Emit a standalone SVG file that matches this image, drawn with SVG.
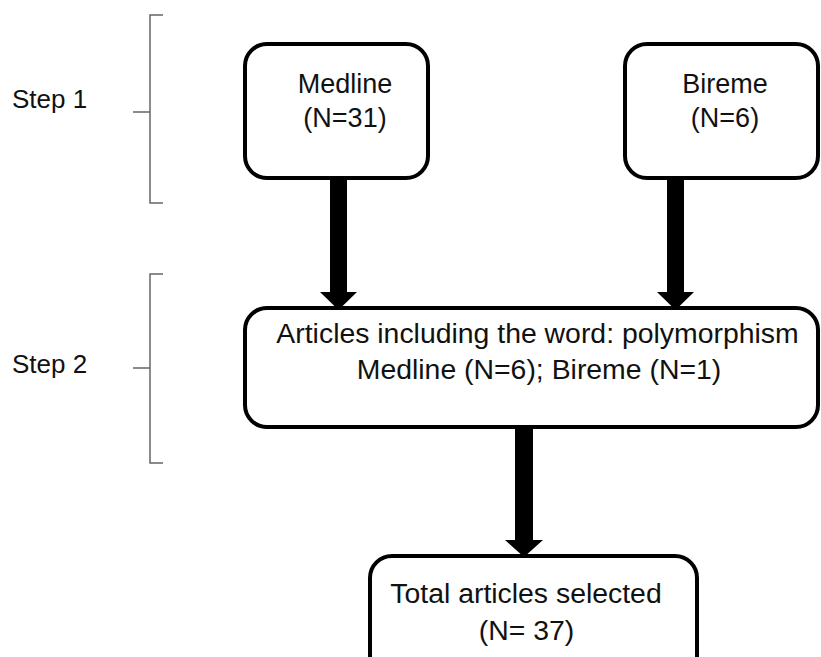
<svg xmlns="http://www.w3.org/2000/svg" width="821" height="657" viewBox="0 0 821 657">
<style>
.box{fill:#fff;stroke:#000;stroke-width:4}
.t{font-family:"Liberation Sans",Arial,sans-serif;font-size:27px;fill:#111;text-anchor:middle}
.m{font-size:28.4px}
.s{font-family:"Liberation Sans",Arial,sans-serif;font-size:26px;fill:#111}
.br{fill:none;stroke:#666;stroke-width:1.5}
.arr{fill:#000}
</style>
<rect width="821" height="657" fill="#fff"/>
<g id="step1">
<path class="br" d="M163,15 H150 V203 H163 M150,112 H133"/>
<text class="s" x="12" y="108">Step 1</text>
</g>
<g id="step2">
<path class="br" d="M163,274 H150 V463 H163 M150,368 H133"/>
<text class="s" x="12" y="373">Step 2</text>
</g>
<g id="connectors">
<polygon class="arr" points="330,178 347,178 347,292 357,292 338.5,310 320,292 330,292"/>
<polygon class="arr" points="667,178 684,178 684,292 694,292 675.5,310 657,292 667,292"/>
<polygon class="arr" points="515,427 533,427 533,540 543,540 524,557 505,540 515,540"/>
</g>
<g id="medline">
<rect class="box" x="245" y="44" width="183" height="134" rx="22"/>
<text class="t" x="345" y="93">Medline</text>
<text class="t" x="345" y="127">(N=31)</text>
</g>
<g id="bireme">
<rect class="box" x="625" y="44" width="193" height="134" rx="22"/>
<text class="t" x="725" y="93">Bireme</text>
<text class="t" x="725" y="127">(N=6)</text>
</g>
<g id="articles">
<rect class="box" x="245" y="308" width="573" height="119" rx="22"/>
<text class="t m" x="537.5" y="343">Articles including the word: polymorphism</text>
<text class="t m" x="539" y="379">Medline (N=6); Bireme (N=1)</text>
</g>
<g id="total">
<rect class="box" x="370" y="556" width="327" height="130" rx="22"/>
<text class="t m" x="526" y="603">Total articles selected</text>
<text class="t m" x="526.5" y="640">(N= 37)</text>
</g>
</svg>
